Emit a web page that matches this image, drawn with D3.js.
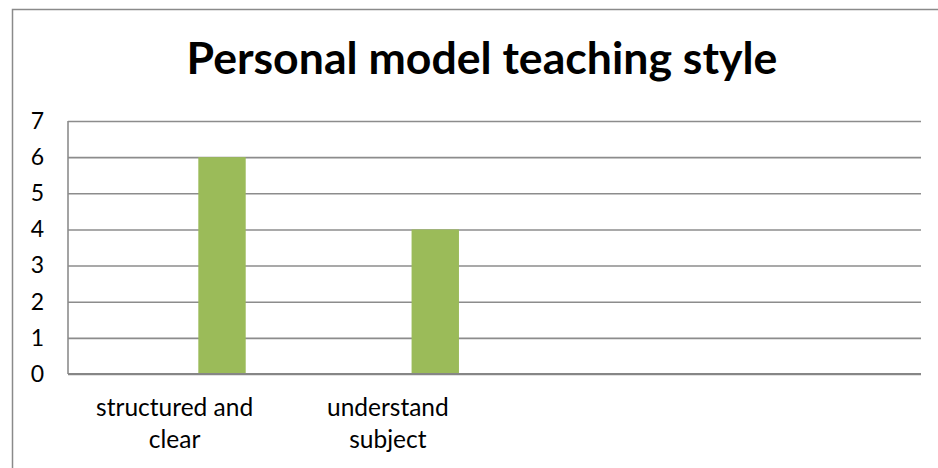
<!DOCTYPE html>
<html><head><meta charset="utf-8">
<script src="https://cdn.jsdelivr.net/npm/d3@7"></script>
<style>body{margin:0;background:#fff} svg{display:block}</style>
</head><body><svg id="c" width="938" height="468"></svg>
<script>
const title = "Personal model teaching style";
const categories = ["structured and clear", "understand subject", "", ""];
const seriesNames = ["Series1", "Series2", "Series3"];
const series1 = [0, 0, 0, 0];
const series2 = [0, 0, 0, 0];
const series3 = [6, 4, 0, 0];
const yTicks = [0, 1, 2, 3, 4, 5, 6, 7];
const seriesColors = ["#4F81BD", "#C0504D", "#9BBB59"];

const seriesValues = [series1, series2, series3];
const svg = d3.select("#c");
const W = 938, H = 468;
const m = {left: 68, right: 921, top: 121, bottom: 374};
const font = "Lato, 'Open Sans', sans-serif";

// chart border (top + left visible)
svg.append("path")
  .attr("d", `M12.5,${H+5} L12.5,9.5 L${W+5},9.5`)
  .attr("fill", "none").attr("stroke", "#8a8a8a").attr("stroke-width", 1.5);

const x0 = d3.scaleBand().domain(d3.range(categories.length)).range([m.left, m.right]).paddingInner(0).paddingOuter(0);
const x1 = d3.scaleBand().domain(seriesNames).range([0, x0.bandwidth()]).paddingInner(0).paddingOuter(0.75);
const y = d3.scaleLinear().domain([0, 7]).range([m.bottom, m.top]);

// gridlines + y labels
const yAxis = d3.axisLeft(y).tickValues(yTicks).tickSize(-(m.right - m.left)).tickPadding(24).tickFormat(d3.format("d"));
const gy = svg.append("g").attr("transform", `translate(${m.left},0)`).call(yAxis);
gy.select(".domain").remove();
gy.selectAll(".tick line").attr("stroke", "#8c8c8c").attr("stroke-width", 1.6);
gy.selectAll(".tick text").attr("font-family", font).attr("font-size", 23).attr("fill", "#000");

// bars
const groups = svg.append("g").selectAll("g").data(categories.map((c, i) => i)).join("g")
  .attr("transform", i => `translate(${x0(i)},0)`);
groups.selectAll("rect").data(i => seriesNames.map((s, k) => ({s, k, v: seriesValues[k][i]})))
  .join("rect")
  .attr("x", d => x1(d.s)).attr("width", x1.bandwidth())
  .attr("y", d => y(d.v)).attr("height", d => y(0) - y(d.v))
  .attr("fill", d => seriesColors[d.k]);

// axis lines
svg.append("line").attr("x1", m.left).attr("x2", m.left).attr("y1", m.top).attr("y2", m.bottom)
  .attr("stroke", "#8c8c8c").attr("stroke-width", 1.6);
svg.append("line").attr("x1", m.left).attr("x2", m.right).attr("y1", y(0)).attr("y2", y(0))
  .attr("stroke", "#868686").attr("stroke-width", 2);

// category labels (wrapped)
const maxW = 185;
const catG = svg.append("g");
categories.forEach((c, i) => {
  if (!c) return;
  const cx = x0(i) + x0.bandwidth() / 2;
  const t = catG.append("text").attr("x", cx).attr("y", 416)
    .attr("text-anchor", "middle").attr("font-family", font).attr("font-size", 24.5).attr("fill", "#000");
  const words = c.split(" ");
  let line = [];
  let ts = t.append("tspan").attr("x", cx).attr("dy", 0);
  words.forEach(w => {
    line.push(w);
    ts.text(line.join(" "));
    if (ts.node().getComputedTextLength() > maxW && line.length > 1) {
      line.pop(); ts.text(line.join(" "));
      line = [w];
      ts = t.append("tspan").attr("x", cx).attr("dy", 32).text(w);
    }
  });
});

// title
svg.append("text").attr("x", 482).attr("y", 74).attr("text-anchor", "middle")
  .attr("font-family", font).attr("font-weight", "bold").attr("font-size", 44.6).attr("fill", "#000")
  .text(title);
</script></body></html>
